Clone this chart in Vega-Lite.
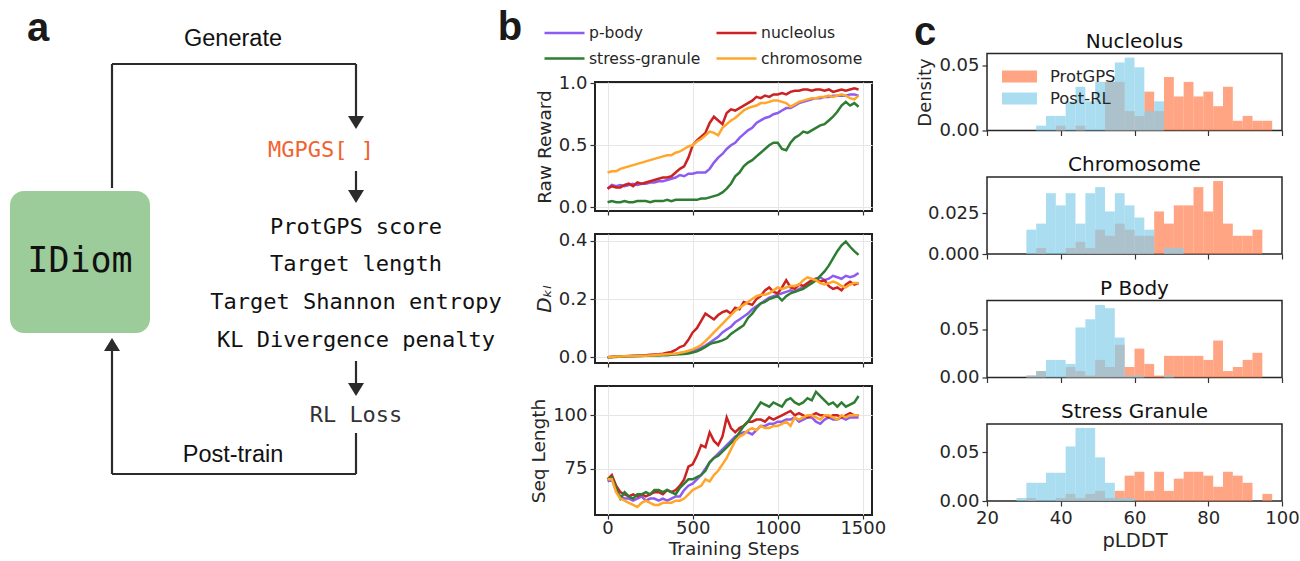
{
"$schema": "https://vega.github.io/schema/vega-lite/v6.json",
"padding": 0,
"background": "white",
"autosize": {"type": "pad"},
"config": {
  "font": "DejaVu Sans",
  "view": {"stroke": null},
  "axis": {"domain": false, "labelFlush": false, "tickColor": "#333333", "tickSize": 5, "tickWidth": 1.2, "labelFont": "DejaVu Sans", "titleFont": "DejaVu Sans", "labelFontSize": 18, "labelColor": "#262626", "titleFontSize": 18.5, "titleFontWeight": "normal", "titleColor": "#262626", "gridColor": "#e6e6e6", "labelPadding": 3},
  "legend": {"labelFont": "DejaVu Sans"},
  "title": {"font": "DejaVu Sans"}
},
"datasets": {
  "curves": [
{"series":"p-body","step":0,"reward":0.15,"kl":0,"len":69},
{"series":"p-body","step":25,"reward":0.18,"kl":0.001,"len":70},
{"series":"p-body","step":50,"reward":0.17,"kl":0.002,"len":65},
{"series":"p-body","step":75,"reward":0.18,"kl":0.002,"len":62},
{"series":"p-body","step":100,"reward":0.17,"kl":0.003,"len":61},
{"series":"p-body","step":125,"reward":0.18,"kl":0.003,"len":61},
{"series":"p-body","step":150,"reward":0.19,"kl":0.004,"len":60},
{"series":"p-body","step":175,"reward":0.18,"kl":0.004,"len":61},
{"series":"p-body","step":200,"reward":0.19,"kl":0.005,"len":62},
{"series":"p-body","step":225,"reward":0.19,"kl":0.005,"len":60},
{"series":"p-body","step":250,"reward":0.20,"kl":0.006,"len":61},
{"series":"p-body","step":275,"reward":0.20,"kl":0.007,"len":61},
{"series":"p-body","step":300,"reward":0.21,"kl":0.008,"len":60},
{"series":"p-body","step":325,"reward":0.21,"kl":0.009,"len":61},
{"series":"p-body","step":350,"reward":0.22,"kl":0.010,"len":60},
{"series":"p-body","step":375,"reward":0.23,"kl":0.011,"len":61},
{"series":"p-body","step":400,"reward":0.24,"kl":0.012,"len":62},
{"series":"p-body","step":425,"reward":0.26,"kl":0.014,"len":62},
{"series":"p-body","step":450,"reward":0.25,"kl":0.016,"len":65},
{"series":"p-body","step":475,"reward":0.27,"kl":0.019,"len":67},
{"series":"p-body","step":500,"reward":0.27,"kl":0.022,"len":68},
{"series":"p-body","step":525,"reward":0.28,"kl":0.026,"len":70},
{"series":"p-body","step":550,"reward":0.28,"kl":0.032,"len":72},
{"series":"p-body","step":575,"reward":0.28,"kl":0.04,"len":75},
{"series":"p-body","step":600,"reward":0.31,"kl":0.05,"len":78},
{"series":"p-body","step":625,"reward":0.36,"kl":0.06,"len":80},
{"series":"p-body","step":650,"reward":0.40,"kl":0.07,"len":82},
{"series":"p-body","step":675,"reward":0.43,"kl":0.085,"len":84},
{"series":"p-body","step":700,"reward":0.47,"kl":0.095,"len":86},
{"series":"p-body","step":725,"reward":0.50,"kl":0.105,"len":88},
{"series":"p-body","step":750,"reward":0.52,"kl":0.12,"len":90},
{"series":"p-body","step":775,"reward":0.56,"kl":0.13,"len":91},
{"series":"p-body","step":800,"reward":0.59,"kl":0.14,"len":92},
{"series":"p-body","step":825,"reward":0.62,"kl":0.15,"len":92},
{"series":"p-body","step":850,"reward":0.64,"kl":0.165,"len":91},
{"series":"p-body","step":875,"reward":0.68,"kl":0.175,"len":93},
{"series":"p-body","step":900,"reward":0.70,"kl":0.185,"len":95},
{"series":"p-body","step":925,"reward":0.72,"kl":0.195,"len":95},
{"series":"p-body","step":950,"reward":0.73,"kl":0.205,"len":96},
{"series":"p-body","step":975,"reward":0.75,"kl":0.21,"len":96},
{"series":"p-body","step":1000,"reward":0.76,"kl":0.215,"len":97},
{"series":"p-body","step":1025,"reward":0.78,"kl":0.22,"len":97},
{"series":"p-body","step":1050,"reward":0.80,"kl":0.225,"len":98},
{"series":"p-body","step":1075,"reward":0.80,"kl":0.23,"len":98},
{"series":"p-body","step":1100,"reward":0.82,"kl":0.225,"len":99},
{"series":"p-body","step":1125,"reward":0.84,"kl":0.235,"len":97},
{"series":"p-body","step":1150,"reward":0.85,"kl":0.24,"len":98},
{"series":"p-body","step":1175,"reward":0.86,"kl":0.25,"len":99},
{"series":"p-body","step":1200,"reward":0.87,"kl":0.255,"len":99},
{"series":"p-body","step":1225,"reward":0.88,"kl":0.27,"len":97},
{"series":"p-body","step":1250,"reward":0.88,"kl":0.275,"len":96},
{"series":"p-body","step":1275,"reward":0.89,"kl":0.265,"len":98},
{"series":"p-body","step":1300,"reward":0.89,"kl":0.27,"len":99},
{"series":"p-body","step":1325,"reward":0.90,"kl":0.28,"len":98},
{"series":"p-body","step":1350,"reward":0.90,"kl":0.275,"len":98},
{"series":"p-body","step":1375,"reward":0.90,"kl":0.27,"len":99},
{"series":"p-body","step":1400,"reward":0.90,"kl":0.28,"len":98},
{"series":"p-body","step":1425,"reward":0.91,"kl":0.275,"len":99},
{"series":"p-body","step":1450,"reward":0.91,"kl":0.28,"len":99},
{"series":"p-body","step":1475,"reward":0.90,"kl":0.29,"len":99},
{"series":"nucleolus","step":0,"reward":0.15,"kl":0,"len":70},
{"series":"nucleolus","step":25,"reward":0.17,"kl":0.001,"len":72},
{"series":"nucleolus","step":50,"reward":0.16,"kl":0.002,"len":67},
{"series":"nucleolus","step":75,"reward":0.16,"kl":0.002,"len":64},
{"series":"nucleolus","step":100,"reward":0.18,"kl":0.003,"len":63},
{"series":"nucleolus","step":125,"reward":0.19,"kl":0.004,"len":62},
{"series":"nucleolus","step":150,"reward":0.17,"kl":0.005,"len":63},
{"series":"nucleolus","step":175,"reward":0.20,"kl":0.005,"len":62},
{"series":"nucleolus","step":200,"reward":0.19,"kl":0.006,"len":63},
{"series":"nucleolus","step":225,"reward":0.20,"kl":0.007,"len":62},
{"series":"nucleolus","step":250,"reward":0.21,"kl":0.008,"len":63},
{"series":"nucleolus","step":275,"reward":0.22,"kl":0.009,"len":64},
{"series":"nucleolus","step":300,"reward":0.23,"kl":0.010,"len":64},
{"series":"nucleolus","step":325,"reward":0.24,"kl":0.012,"len":63},
{"series":"nucleolus","step":350,"reward":0.24,"kl":0.015,"len":65},
{"series":"nucleolus","step":375,"reward":0.25,"kl":0.018,"len":64},
{"series":"nucleolus","step":400,"reward":0.28,"kl":0.025,"len":65},
{"series":"nucleolus","step":425,"reward":0.31,"kl":0.035,"len":67},
{"series":"nucleolus","step":450,"reward":0.33,"kl":0.04,"len":70},
{"series":"nucleolus","step":475,"reward":0.40,"kl":0.06,"len":76},
{"series":"nucleolus","step":500,"reward":0.50,"kl":0.085,"len":77},
{"series":"nucleolus","step":525,"reward":0.54,"kl":0.10,"len":81},
{"series":"nucleolus","step":550,"reward":0.57,"kl":0.125,"len":86},
{"series":"nucleolus","step":575,"reward":0.60,"kl":0.15,"len":85},
{"series":"nucleolus","step":600,"reward":0.68,"kl":0.14,"len":92},
{"series":"nucleolus","step":625,"reward":0.73,"kl":0.13,"len":88},
{"series":"nucleolus","step":650,"reward":0.70,"kl":0.145,"len":86},
{"series":"nucleolus","step":675,"reward":0.67,"kl":0.155,"len":90},
{"series":"nucleolus","step":700,"reward":0.76,"kl":0.16,"len":99},
{"series":"nucleolus","step":725,"reward":0.79,"kl":0.15,"len":94},
{"series":"nucleolus","step":750,"reward":0.78,"kl":0.17,"len":92},
{"series":"nucleolus","step":775,"reward":0.80,"kl":0.165,"len":94},
{"series":"nucleolus","step":800,"reward":0.82,"kl":0.19,"len":95},
{"series":"nucleolus","step":825,"reward":0.84,"kl":0.185,"len":97},
{"series":"nucleolus","step":850,"reward":0.86,"kl":0.18,"len":97},
{"series":"nucleolus","step":875,"reward":0.89,"kl":0.2,"len":98},
{"series":"nucleolus","step":900,"reward":0.88,"kl":0.21,"len":98},
{"series":"nucleolus","step":925,"reward":0.90,"kl":0.23,"len":97},
{"series":"nucleolus","step":950,"reward":0.89,"kl":0.24,"len":99},
{"series":"nucleolus","step":975,"reward":0.91,"kl":0.225,"len":98},
{"series":"nucleolus","step":1000,"reward":0.91,"kl":0.22,"len":99},
{"series":"nucleolus","step":1025,"reward":0.92,"kl":0.24,"len":100},
{"series":"nucleolus","step":1050,"reward":0.91,"kl":0.265,"len":101},
{"series":"nucleolus","step":1075,"reward":0.93,"kl":0.24,"len":102},
{"series":"nucleolus","step":1100,"reward":0.94,"kl":0.235,"len":100},
{"series":"nucleolus","step":1125,"reward":0.94,"kl":0.25,"len":101},
{"series":"nucleolus","step":1150,"reward":0.95,"kl":0.245,"len":100},
{"series":"nucleolus","step":1175,"reward":0.95,"kl":0.255,"len":99},
{"series":"nucleolus","step":1200,"reward":0.94,"kl":0.265,"len":100},
{"series":"nucleolus","step":1225,"reward":0.95,"kl":0.27,"len":101},
{"series":"nucleolus","step":1250,"reward":0.95,"kl":0.26,"len":100},
{"series":"nucleolus","step":1275,"reward":0.94,"kl":0.265,"len":100},
{"series":"nucleolus","step":1300,"reward":0.95,"kl":0.245,"len":99},
{"series":"nucleolus","step":1325,"reward":0.93,"kl":0.235,"len":100},
{"series":"nucleolus","step":1350,"reward":0.94,"kl":0.24,"len":100},
{"series":"nucleolus","step":1375,"reward":0.95,"kl":0.23,"len":99},
{"series":"nucleolus","step":1400,"reward":0.94,"kl":0.25,"len":100},
{"series":"nucleolus","step":1425,"reward":0.95,"kl":0.26,"len":101},
{"series":"nucleolus","step":1450,"reward":0.96,"kl":0.25,"len":100},
{"series":"nucleolus","step":1475,"reward":0.95,"kl":0.255,"len":100},
{"series":"stress-granule","step":0,"reward":0.04,"kl":0,"len":70},
{"series":"stress-granule","step":25,"reward":0.05,"kl":0.001,"len":71},
{"series":"stress-granule","step":50,"reward":0.04,"kl":0.001,"len":66},
{"series":"stress-granule","step":75,"reward":0.04,"kl":0.002,"len":61},
{"series":"stress-granule","step":100,"reward":0.05,"kl":0.002,"len":64},
{"series":"stress-granule","step":125,"reward":0.04,"kl":0.003,"len":62},
{"series":"stress-granule","step":150,"reward":0.04,"kl":0.003,"len":61},
{"series":"stress-granule","step":175,"reward":0.05,"kl":0.004,"len":63},
{"series":"stress-granule","step":200,"reward":0.05,"kl":0.004,"len":63},
{"series":"stress-granule","step":225,"reward":0.05,"kl":0.005,"len":64},
{"series":"stress-granule","step":250,"reward":0.04,"kl":0.005,"len":63},
{"series":"stress-granule","step":275,"reward":0.05,"kl":0.006,"len":65},
{"series":"stress-granule","step":300,"reward":0.05,"kl":0.006,"len":65},
{"series":"stress-granule","step":325,"reward":0.05,"kl":0.007,"len":64},
{"series":"stress-granule","step":350,"reward":0.06,"kl":0.007,"len":65},
{"series":"stress-granule","step":375,"reward":0.05,"kl":0.008,"len":64},
{"series":"stress-granule","step":400,"reward":0.06,"kl":0.009,"len":63},
{"series":"stress-granule","step":425,"reward":0.06,"kl":0.010,"len":66},
{"series":"stress-granule","step":450,"reward":0.06,"kl":0.011,"len":68},
{"series":"stress-granule","step":475,"reward":0.06,"kl":0.013,"len":70},
{"series":"stress-granule","step":500,"reward":0.06,"kl":0.016,"len":70},
{"series":"stress-granule","step":525,"reward":0.06,"kl":0.02,"len":71},
{"series":"stress-granule","step":550,"reward":0.07,"kl":0.027,"len":72},
{"series":"stress-granule","step":575,"reward":0.07,"kl":0.035,"len":74},
{"series":"stress-granule","step":600,"reward":0.08,"kl":0.045,"len":78},
{"series":"stress-granule","step":625,"reward":0.09,"kl":0.05,"len":80},
{"series":"stress-granule","step":650,"reward":0.10,"kl":0.053,"len":81},
{"series":"stress-granule","step":675,"reward":0.12,"kl":0.058,"len":83},
{"series":"stress-granule","step":700,"reward":0.15,"kl":0.065,"len":85},
{"series":"stress-granule","step":725,"reward":0.19,"kl":0.08,"len":87},
{"series":"stress-granule","step":750,"reward":0.25,"kl":0.09,"len":89},
{"series":"stress-granule","step":775,"reward":0.28,"kl":0.10,"len":92},
{"series":"stress-granule","step":800,"reward":0.33,"kl":0.11,"len":95},
{"series":"stress-granule","step":825,"reward":0.36,"kl":0.135,"len":97},
{"series":"stress-granule","step":850,"reward":0.38,"kl":0.15,"len":100},
{"series":"stress-granule","step":875,"reward":0.41,"kl":0.17,"len":103},
{"series":"stress-granule","step":900,"reward":0.44,"kl":0.185,"len":106},
{"series":"stress-granule","step":925,"reward":0.47,"kl":0.19,"len":105},
{"series":"stress-granule","step":950,"reward":0.50,"kl":0.2,"len":104},
{"series":"stress-granule","step":975,"reward":0.52,"kl":0.205,"len":106},
{"series":"stress-granule","step":1000,"reward":0.52,"kl":0.21,"len":105},
{"series":"stress-granule","step":1025,"reward":0.47,"kl":0.195,"len":104},
{"series":"stress-granule","step":1050,"reward":0.46,"kl":0.21,"len":107},
{"series":"stress-granule","step":1075,"reward":0.52,"kl":0.22,"len":108},
{"series":"stress-granule","step":1100,"reward":0.56,"kl":0.225,"len":106},
{"series":"stress-granule","step":1125,"reward":0.58,"kl":0.23,"len":105},
{"series":"stress-granule","step":1150,"reward":0.61,"kl":0.235,"len":106},
{"series":"stress-granule","step":1175,"reward":0.60,"kl":0.245,"len":108},
{"series":"stress-granule","step":1200,"reward":0.62,"kl":0.255,"len":107},
{"series":"stress-granule","step":1225,"reward":0.64,"kl":0.265,"len":111},
{"series":"stress-granule","step":1250,"reward":0.66,"kl":0.28,"len":109},
{"series":"stress-granule","step":1275,"reward":0.67,"kl":0.295,"len":107},
{"series":"stress-granule","step":1300,"reward":0.70,"kl":0.315,"len":105},
{"series":"stress-granule","step":1325,"reward":0.73,"kl":0.34,"len":106},
{"series":"stress-granule","step":1350,"reward":0.77,"kl":0.365,"len":104},
{"series":"stress-granule","step":1375,"reward":0.82,"kl":0.385,"len":106},
{"series":"stress-granule","step":1400,"reward":0.85,"kl":0.398,"len":104},
{"series":"stress-granule","step":1425,"reward":0.82,"kl":0.38,"len":105},
{"series":"stress-granule","step":1450,"reward":0.84,"kl":0.365,"len":106},
{"series":"stress-granule","step":1475,"reward":0.81,"kl":0.352,"len":109},
{"series":"chromosome","step":0,"reward":0.28,"kl":0,"len":70},
{"series":"chromosome","step":25,"reward":0.29,"kl":0.001,"len":70},
{"series":"chromosome","step":50,"reward":0.29,"kl":0.002,"len":64},
{"series":"chromosome","step":75,"reward":0.31,"kl":0.002,"len":61},
{"series":"chromosome","step":100,"reward":0.32,"kl":0.003,"len":60},
{"series":"chromosome","step":125,"reward":0.33,"kl":0.003,"len":59},
{"series":"chromosome","step":150,"reward":0.34,"kl":0.004,"len":58},
{"series":"chromosome","step":175,"reward":0.35,"kl":0.004,"len":57},
{"series":"chromosome","step":200,"reward":0.36,"kl":0.005,"len":59},
{"series":"chromosome","step":225,"reward":0.37,"kl":0.005,"len":60},
{"series":"chromosome","step":250,"reward":0.38,"kl":0.006,"len":59},
{"series":"chromosome","step":275,"reward":0.39,"kl":0.007,"len":58},
{"series":"chromosome","step":300,"reward":0.40,"kl":0.008,"len":58},
{"series":"chromosome","step":325,"reward":0.41,"kl":0.009,"len":59},
{"series":"chromosome","step":350,"reward":0.42,"kl":0.010,"len":59},
{"series":"chromosome","step":375,"reward":0.42,"kl":0.011,"len":59},
{"series":"chromosome","step":400,"reward":0.44,"kl":0.012,"len":60},
{"series":"chromosome","step":425,"reward":0.45,"kl":0.015,"len":60},
{"series":"chromosome","step":450,"reward":0.47,"kl":0.018,"len":61},
{"series":"chromosome","step":475,"reward":0.49,"kl":0.022,"len":63},
{"series":"chromosome","step":500,"reward":0.50,"kl":0.027,"len":65},
{"series":"chromosome","step":525,"reward":0.53,"kl":0.034,"len":66},
{"series":"chromosome","step":550,"reward":0.55,"kl":0.042,"len":67},
{"series":"chromosome","step":575,"reward":0.58,"kl":0.055,"len":70},
{"series":"chromosome","step":600,"reward":0.61,"kl":0.07,"len":69},
{"series":"chromosome","step":625,"reward":0.60,"kl":0.085,"len":72},
{"series":"chromosome","step":650,"reward":0.58,"kl":0.1,"len":74},
{"series":"chromosome","step":675,"reward":0.64,"kl":0.115,"len":77},
{"series":"chromosome","step":700,"reward":0.67,"kl":0.13,"len":80},
{"series":"chromosome","step":725,"reward":0.70,"kl":0.145,"len":84},
{"series":"chromosome","step":750,"reward":0.72,"kl":0.16,"len":88},
{"series":"chromosome","step":775,"reward":0.75,"kl":0.17,"len":90},
{"series":"chromosome","step":800,"reward":0.78,"kl":0.18,"len":91},
{"series":"chromosome","step":825,"reward":0.80,"kl":0.19,"len":93},
{"series":"chromosome","step":850,"reward":0.81,"kl":0.2,"len":94},
{"series":"chromosome","step":875,"reward":0.82,"kl":0.21,"len":93},
{"series":"chromosome","step":900,"reward":0.84,"kl":0.215,"len":95},
{"series":"chromosome","step":925,"reward":0.84,"kl":0.215,"len":94},
{"series":"chromosome","step":950,"reward":0.85,"kl":0.22,"len":94},
{"series":"chromosome","step":975,"reward":0.86,"kl":0.23,"len":95},
{"series":"chromosome","step":1000,"reward":0.86,"kl":0.24,"len":95},
{"series":"chromosome","step":1025,"reward":0.85,"kl":0.235,"len":96},
{"series":"chromosome","step":1050,"reward":0.84,"kl":0.24,"len":97},
{"series":"chromosome","step":1075,"reward":0.81,"kl":0.245,"len":95},
{"series":"chromosome","step":1100,"reward":0.83,"kl":0.245,"len":99},
{"series":"chromosome","step":1125,"reward":0.85,"kl":0.25,"len":98},
{"series":"chromosome","step":1150,"reward":0.86,"kl":0.265,"len":99},
{"series":"chromosome","step":1175,"reward":0.87,"kl":0.275,"len":100},
{"series":"chromosome","step":1200,"reward":0.88,"kl":0.27,"len":100},
{"series":"chromosome","step":1225,"reward":0.88,"kl":0.265,"len":99},
{"series":"chromosome","step":1250,"reward":0.89,"kl":0.255,"len":98},
{"series":"chromosome","step":1275,"reward":0.89,"kl":0.25,"len":100},
{"series":"chromosome","step":1300,"reward":0.90,"kl":0.255,"len":100},
{"series":"chromosome","step":1325,"reward":0.89,"kl":0.26,"len":99},
{"series":"chromosome","step":1350,"reward":0.90,"kl":0.255,"len":98},
{"series":"chromosome","step":1375,"reward":0.91,"kl":0.245,"len":100},
{"series":"chromosome","step":1400,"reward":0.90,"kl":0.24,"len":99},
{"series":"chromosome","step":1425,"reward":0.88,"kl":0.25,"len":100},
{"series":"chromosome","step":1450,"reward":0.87,"kl":0.255,"len":100},
{"series":"chromosome","step":1475,"reward":0.90,"kl":0.255,"len":100}
  ],
  "hist": [
{"organelle":"Nucleolus","model":"ProtGPS","lo":38.667,"hi":41.333,"density":0.00375},
{"organelle":"Nucleolus","model":"ProtGPS","lo":44,"hi":46.667,"density":0.00375},
{"organelle":"Nucleolus","model":"ProtGPS","lo":52,"hi":54.667,"density":0.0375},
{"organelle":"Nucleolus","model":"ProtGPS","lo":54.667,"hi":57.333,"density":0.0375},
{"organelle":"Nucleolus","model":"ProtGPS","lo":57.333,"hi":60,"density":0.015},
{"organelle":"Nucleolus","model":"ProtGPS","lo":60,"hi":62.667,"density":0.01125},
{"organelle":"Nucleolus","model":"ProtGPS","lo":62.667,"hi":65.333,"density":0.03},
{"organelle":"Nucleolus","model":"ProtGPS","lo":65.333,"hi":68,"density":0.015},
{"organelle":"Nucleolus","model":"ProtGPS","lo":68,"hi":70.667,"density":0.04125},
{"organelle":"Nucleolus","model":"ProtGPS","lo":70.667,"hi":73.333,"density":0.02625},
{"organelle":"Nucleolus","model":"ProtGPS","lo":73.333,"hi":76,"density":0.0375},
{"organelle":"Nucleolus","model":"ProtGPS","lo":76,"hi":78.667,"density":0.02625},
{"organelle":"Nucleolus","model":"ProtGPS","lo":78.667,"hi":81.333,"density":0.03},
{"organelle":"Nucleolus","model":"ProtGPS","lo":81.333,"hi":84,"density":0.01875},
{"organelle":"Nucleolus","model":"ProtGPS","lo":84,"hi":86.667,"density":0.03375},
{"organelle":"Nucleolus","model":"ProtGPS","lo":86.667,"hi":89.333,"density":0.0075},
{"organelle":"Nucleolus","model":"ProtGPS","lo":89.333,"hi":92,"density":0.01125},
{"organelle":"Nucleolus","model":"ProtGPS","lo":92,"hi":94.667,"density":0.0075},
{"organelle":"Nucleolus","model":"ProtGPS","lo":94.667,"hi":97.333,"density":0.0075},
{"organelle":"Chromosome","model":"ProtGPS","lo":33.333,"hi":36,"density":0.00375},
{"organelle":"Chromosome","model":"ProtGPS","lo":41.333,"hi":44,"density":0.00375},
{"organelle":"Chromosome","model":"ProtGPS","lo":44,"hi":46.667,"density":0.0075},
{"organelle":"Chromosome","model":"ProtGPS","lo":46.667,"hi":49.333,"density":0.00375},
{"organelle":"Chromosome","model":"ProtGPS","lo":49.333,"hi":52,"density":0.015},
{"organelle":"Chromosome","model":"ProtGPS","lo":52,"hi":54.667,"density":0.01125},
{"organelle":"Chromosome","model":"ProtGPS","lo":54.667,"hi":57.333,"density":0.01875},
{"organelle":"Chromosome","model":"ProtGPS","lo":57.333,"hi":60,"density":0.015},
{"organelle":"Chromosome","model":"ProtGPS","lo":60,"hi":62.667,"density":0.01125},
{"organelle":"Chromosome","model":"ProtGPS","lo":62.667,"hi":65.333,"density":0.01125},
{"organelle":"Chromosome","model":"ProtGPS","lo":65.333,"hi":68,"density":0.02625},
{"organelle":"Chromosome","model":"ProtGPS","lo":68,"hi":70.667,"density":0.01875},
{"organelle":"Chromosome","model":"ProtGPS","lo":70.667,"hi":73.333,"density":0.03},
{"organelle":"Chromosome","model":"ProtGPS","lo":73.333,"hi":76,"density":0.03},
{"organelle":"Chromosome","model":"ProtGPS","lo":76,"hi":78.667,"density":0.04125},
{"organelle":"Chromosome","model":"ProtGPS","lo":78.667,"hi":81.333,"density":0.02625},
{"organelle":"Chromosome","model":"ProtGPS","lo":81.333,"hi":84,"density":0.045},
{"organelle":"Chromosome","model":"ProtGPS","lo":84,"hi":86.667,"density":0.01875},
{"organelle":"Chromosome","model":"ProtGPS","lo":86.667,"hi":89.333,"density":0.01125},
{"organelle":"Chromosome","model":"ProtGPS","lo":89.333,"hi":92,"density":0.01125},
{"organelle":"Chromosome","model":"ProtGPS","lo":92,"hi":94.667,"density":0.015},
{"organelle":"P Body","model":"ProtGPS","lo":30.667,"hi":33.333,"density":0.002},
{"organelle":"P Body","model":"ProtGPS","lo":33.333,"hi":36,"density":0.0067},
{"organelle":"P Body","model":"ProtGPS","lo":41.333,"hi":44,"density":0.0109},
{"organelle":"P Body","model":"ProtGPS","lo":44,"hi":46.667,"density":0.0067},
{"organelle":"P Body","model":"ProtGPS","lo":46.667,"hi":49.333,"density":0.002},
{"organelle":"P Body","model":"ProtGPS","lo":49.333,"hi":52,"density":0.0183},
{"organelle":"P Body","model":"ProtGPS","lo":52,"hi":54.667,"density":0.0109},
{"organelle":"P Body","model":"ProtGPS","lo":54.667,"hi":57.333,"density":0.034},
{"organelle":"P Body","model":"ProtGPS","lo":57.333,"hi":60,"density":0.0109},
{"organelle":"P Body","model":"ProtGPS","lo":60,"hi":62.667,"density":0.030},
{"organelle":"P Body","model":"ProtGPS","lo":62.667,"hi":65.333,"density":0.0141},
{"organelle":"P Body","model":"ProtGPS","lo":65.333,"hi":68,"density":0.002},
{"organelle":"P Body","model":"ProtGPS","lo":68,"hi":70.667,"density":0.0225},
{"organelle":"P Body","model":"ProtGPS","lo":70.667,"hi":73.333,"density":0.0225},
{"organelle":"P Body","model":"ProtGPS","lo":73.333,"hi":76,"density":0.0225},
{"organelle":"P Body","model":"ProtGPS","lo":76,"hi":78.667,"density":0.0225},
{"organelle":"P Body","model":"ProtGPS","lo":78.667,"hi":81.333,"density":0.0183},
{"organelle":"P Body","model":"ProtGPS","lo":81.333,"hi":84,"density":0.0384},
{"organelle":"P Body","model":"ProtGPS","lo":84,"hi":86.667,"density":0.0067},
{"organelle":"P Body","model":"ProtGPS","lo":86.667,"hi":89.333,"density":0.0109},
{"organelle":"P Body","model":"ProtGPS","lo":89.333,"hi":92,"density":0.0183},
{"organelle":"P Body","model":"ProtGPS","lo":92,"hi":94.667,"density":0.0257},
{"organelle":"Stress Granule","model":"ProtGPS","lo":30.667,"hi":33.333,"density":0.0031},
{"organelle":"Stress Granule","model":"ProtGPS","lo":38.667,"hi":41.333,"density":0.0031},
{"organelle":"Stress Granule","model":"ProtGPS","lo":41.333,"hi":44,"density":0.0073},
{"organelle":"Stress Granule","model":"ProtGPS","lo":44,"hi":46.667,"density":0.0031},
{"organelle":"Stress Granule","model":"ProtGPS","lo":46.667,"hi":49.333,"density":0.0073},
{"organelle":"Stress Granule","model":"ProtGPS","lo":49.333,"hi":52,"density":0.0104},
{"organelle":"Stress Granule","model":"ProtGPS","lo":52,"hi":54.667,"density":0.0031},
{"organelle":"Stress Granule","model":"ProtGPS","lo":54.667,"hi":57.333,"density":0.0104},
{"organelle":"Stress Granule","model":"ProtGPS","lo":57.333,"hi":60,"density":0.026},
{"organelle":"Stress Granule","model":"ProtGPS","lo":60,"hi":62.667,"density":0.030},
{"organelle":"Stress Granule","model":"ProtGPS","lo":62.667,"hi":65.333,"density":0.0104},
{"organelle":"Stress Granule","model":"ProtGPS","lo":65.333,"hi":68,"density":0.030},
{"organelle":"Stress Granule","model":"ProtGPS","lo":68,"hi":70.667,"density":0.0104},
{"organelle":"Stress Granule","model":"ProtGPS","lo":70.667,"hi":73.333,"density":0.0229},
{"organelle":"Stress Granule","model":"ProtGPS","lo":73.333,"hi":76,"density":0.030},
{"organelle":"Stress Granule","model":"ProtGPS","lo":76,"hi":78.667,"density":0.030},
{"organelle":"Stress Granule","model":"ProtGPS","lo":78.667,"hi":81.333,"density":0.026},
{"organelle":"Stress Granule","model":"ProtGPS","lo":81.333,"hi":84,"density":0.0146},
{"organelle":"Stress Granule","model":"ProtGPS","lo":84,"hi":86.667,"density":0.030},
{"organelle":"Stress Granule","model":"ProtGPS","lo":86.667,"hi":89.333,"density":0.026},
{"organelle":"Stress Granule","model":"ProtGPS","lo":89.333,"hi":92,"density":0.0187},
{"organelle":"Stress Granule","model":"ProtGPS","lo":94.667,"hi":97.333,"density":0.0073},
{"organelle":"Nucleolus","model":"Post-RL","lo":33.333,"hi":36,"density":0.00375},
{"organelle":"Nucleolus","model":"Post-RL","lo":36,"hi":38.667,"density":0.01125},
{"organelle":"Nucleolus","model":"Post-RL","lo":38.667,"hi":41.333,"density":0.01125},
{"organelle":"Nucleolus","model":"Post-RL","lo":41.333,"hi":44,"density":0.0225},
{"organelle":"Nucleolus","model":"Post-RL","lo":44,"hi":46.667,"density":0.03375},
{"organelle":"Nucleolus","model":"Post-RL","lo":46.667,"hi":49.333,"density":0.0225},
{"organelle":"Nucleolus","model":"Post-RL","lo":49.333,"hi":52,"density":0.0375},
{"organelle":"Nucleolus","model":"Post-RL","lo":52,"hi":54.667,"density":0.0375},
{"organelle":"Nucleolus","model":"Post-RL","lo":54.667,"hi":57.333,"density":0.0525},
{"organelle":"Nucleolus","model":"Post-RL","lo":57.333,"hi":60,"density":0.05625},
{"organelle":"Nucleolus","model":"Post-RL","lo":60,"hi":62.667,"density":0.04875},
{"organelle":"Nucleolus","model":"Post-RL","lo":62.667,"hi":65.333,"density":0.015},
{"organelle":"Nucleolus","model":"Post-RL","lo":65.333,"hi":68,"density":0.0225},
{"organelle":"Chromosome","model":"Post-RL","lo":30.667,"hi":33.333,"density":0.015},
{"organelle":"Chromosome","model":"Post-RL","lo":33.333,"hi":36,"density":0.01875},
{"organelle":"Chromosome","model":"Post-RL","lo":36,"hi":38.667,"density":0.0375},
{"organelle":"Chromosome","model":"Post-RL","lo":38.667,"hi":41.333,"density":0.03},
{"organelle":"Chromosome","model":"Post-RL","lo":41.333,"hi":44,"density":0.0375},
{"organelle":"Chromosome","model":"Post-RL","lo":44,"hi":46.667,"density":0.01875},
{"organelle":"Chromosome","model":"Post-RL","lo":46.667,"hi":49.333,"density":0.0375},
{"organelle":"Chromosome","model":"Post-RL","lo":49.333,"hi":52,"density":0.04125},
{"organelle":"Chromosome","model":"Post-RL","lo":52,"hi":54.667,"density":0.02625},
{"organelle":"Chromosome","model":"Post-RL","lo":54.667,"hi":57.333,"density":0.0375},
{"organelle":"Chromosome","model":"Post-RL","lo":57.333,"hi":60,"density":0.03},
{"organelle":"Chromosome","model":"Post-RL","lo":60,"hi":62.667,"density":0.0225},
{"organelle":"Chromosome","model":"Post-RL","lo":62.667,"hi":65.333,"density":0.015},
{"organelle":"Chromosome","model":"Post-RL","lo":68,"hi":70.667,"density":0.00375},
{"organelle":"Chromosome","model":"Post-RL","lo":70.667,"hi":73.333,"density":0.00375},
{"organelle":"P Body","model":"Post-RL","lo":30.667,"hi":33.333,"density":0.002},
{"organelle":"P Body","model":"Post-RL","lo":33.333,"hi":36,"density":0.0067},
{"organelle":"P Body","model":"Post-RL","lo":36,"hi":38.667,"density":0.0183},
{"organelle":"P Body","model":"Post-RL","lo":38.667,"hi":41.333,"density":0.0183},
{"organelle":"P Body","model":"Post-RL","lo":41.333,"hi":44,"density":0.0141},
{"organelle":"P Body","model":"Post-RL","lo":44,"hi":46.667,"density":0.052},
{"organelle":"P Body","model":"Post-RL","lo":46.667,"hi":49.333,"density":0.0605},
{"organelle":"P Body","model":"Post-RL","lo":49.333,"hi":52,"density":0.0753},
{"organelle":"P Body","model":"Post-RL","lo":52,"hi":54.667,"density":0.072},
{"organelle":"P Body","model":"Post-RL","lo":54.667,"hi":57.333,"density":0.0415},
{"organelle":"P Body","model":"Post-RL","lo":57.333,"hi":60,"density":0.002},
{"organelle":"P Body","model":"Post-RL","lo":60,"hi":62.667,"density":0.002},
{"organelle":"P Body","model":"Post-RL","lo":68,"hi":70.667,"density":0.002},
{"organelle":"Stress Granule","model":"Post-RL","lo":28,"hi":30.667,"density":0.0031},
{"organelle":"Stress Granule","model":"Post-RL","lo":30.667,"hi":33.333,"density":0.0187},
{"organelle":"Stress Granule","model":"Post-RL","lo":33.333,"hi":36,"density":0.0187},
{"organelle":"Stress Granule","model":"Post-RL","lo":36,"hi":38.667,"density":0.029},
{"organelle":"Stress Granule","model":"Post-RL","lo":38.667,"hi":41.333,"density":0.029},
{"organelle":"Stress Granule","model":"Post-RL","lo":41.333,"hi":44,"density":0.056},
{"organelle":"Stress Granule","model":"Post-RL","lo":44,"hi":46.667,"density":0.075},
{"organelle":"Stress Granule","model":"Post-RL","lo":46.667,"hi":49.333,"density":0.075},
{"organelle":"Stress Granule","model":"Post-RL","lo":49.333,"hi":52,"density":0.0448},
{"organelle":"Stress Granule","model":"Post-RL","lo":52,"hi":54.667,"density":0.0187},
{"organelle":"Stress Granule","model":"Post-RL","lo":54.667,"hi":57.333,"density":0.0031},
{"organelle":"Stress Granule","model":"Post-RL","lo":57.333,"hi":60,"density":0.0031}
  ]
},
"bounds": "flush",
"spacing": 75,
"resolve": {"scale": {"color": "independent"}, "legend": {"color": "independent"}},
"hconcat": [
  {
    "width": 520, "height": 561,
    "view": {"stroke": null, "fill": "white"},
    "layer": [
      {"data": {"values": [{"x": 10, "x2": 150, "y": 191, "y2": 333}]},
       "mark": {"type": "rect", "fill": "#9ccc99", "cornerRadius": 14},
       "encoding": {"x": {"field": "x", "type": "quantitative", "scale": {"domain": [0, 520], "nice": false, "zero": false}, "axis": null}, "x2": {"field": "x2"},
                    "y": {"field": "y", "type": "quantitative", "scale": {"domain": [0, 561], "nice": false, "zero": false, "reverse": true}, "axis": null}, "y2": {"field": "y2"}}},
      {"data": {"values": [
          {"x": 112, "y": 188, "x2": 112, "y2": 64},
          {"x": 112, "y": 64, "x2": 356, "y2": 64},
          {"x": 356, "y": 64, "x2": 356, "y2": 118},
          {"x": 356, "y": 171, "x2": 356, "y2": 192},
          {"x": 356, "y": 361, "x2": 356, "y2": 385},
          {"x": 356, "y": 433, "x2": 356, "y2": 474},
          {"x": 356, "y": 474, "x2": 112, "y2": 474},
          {"x": 112, "y": 474, "x2": 112, "y2": 350}]},
       "mark": {"type": "rule", "stroke": "#2b2b2b", "strokeWidth": 2.2},
       "encoding": {"x": {"field": "x", "type": "quantitative"}, "x2": {"field": "x2"}, "y": {"field": "y", "type": "quantitative"}, "y2": {"field": "y2"}}},
      {"data": {"values": [{"x": 356, "y": 122.5, "rot": 0}, {"x": 356, "y": 196.5, "rot": 0}, {"x": 356, "y": 389.5, "rot": 0}, {"x": 112, "y": 344.5, "rot": 180}]},
       "mark": {"type": "point", "shape": "M-1,-0.8L1,-0.8L0,0.8Z", "filled": true, "color": "#2b2b2b", "size": 256, "opacity": 1},
       "encoding": {"x": {"field": "x", "type": "quantitative"}, "y": {"field": "y", "type": "quantitative"}, "angle": {"field": "rot", "type": "quantitative", "scale": null}}},
      {"data": {"values": [{"x": 80, "y": 261, "label": "IDiom"}]},
       "mark": {"type": "text", "font": "DejaVu Sans Mono", "fontSize": 35, "color": "#111111", "align": "center", "baseline": "middle"},
       "encoding": {"x": {"field": "x", "type": "quantitative"}, "y": {"field": "y", "type": "quantitative"}, "text": {"field": "label"}}},
      {"data": {"values": [{"x": 356, "y": 227, "label": "ProtGPS score"}, {"x": 356, "y": 264, "label": "Target length"}, {"x": 356, "y": 302, "label": "Target Shannon entropy"}, {"x": 356, "y": 340, "label": "KL Divergence penalty"}]},
       "mark": {"type": "text", "font": "DejaVu Sans Mono", "fontSize": 22, "color": "#111111", "align": "center", "baseline": "middle"},
       "encoding": {"x": {"field": "x", "type": "quantitative"}, "y": {"field": "y", "type": "quantitative"}, "text": {"field": "label"}}},
      {"data": {"values": [{"x": 356, "y": 415, "label": "RL Loss"}]},
       "mark": {"type": "text", "font": "DejaVu Sans Mono", "fontSize": 22, "color": "#333333", "align": "center", "baseline": "middle"},
       "encoding": {"x": {"field": "x", "type": "quantitative"}, "y": {"field": "y", "type": "quantitative"}, "text": {"field": "label"}}},
      {"data": {"values": [{"x": 268, "y": 150, "label": "MGPGS[ ]"}]},
       "mark": {"type": "text", "font": "DejaVu Sans Mono", "fontSize": 22, "color": "#f2622e", "align": "left", "baseline": "middle"},
       "encoding": {"x": {"field": "x", "type": "quantitative"}, "y": {"field": "y", "type": "quantitative"}, "text": {"field": "label"}}},
      {"data": {"values": [{"x": 233, "y": 39, "label": "Generate"}, {"x": 233, "y": 455, "label": "Post-train"}]},
       "mark": {"type": "text", "font": "Liberation Sans", "fontSize": 23.5, "color": "#111111", "align": "center", "baseline": "middle"},
       "encoding": {"x": {"field": "x", "type": "quantitative"}, "y": {"field": "y", "type": "quantitative"}, "text": {"field": "label"}}},
      {"data": {"values": [{"x": 38, "y": 41, "label": "a"}, {"x": 510, "y": 40, "label": "b"}, {"x": 925, "y": 45, "label": "c"}]},
       "mark": {"type": "text", "font": "Liberation Sans", "fontSize": 40, "fontWeight": "bold", "color": "#1a1a1a", "align": "center", "baseline": "alphabetic"},
       "encoding": {"x": {"field": "x", "type": "quantitative"}, "y": {"field": "y", "type": "quantitative"}, "text": {"field": "label"}}}
    ]
  },
  {
    "bounds": "flush",
    "spacing": 392,
    "resolve": {"scale": {"color": "independent"}, "legend": {"color": "independent"}},
    "hconcat": [
      {
        "bounds": "flush",
        "spacing": 23,
        "resolve": {"scale": {"color": "independent"}, "legend": {"color": "independent"}},
        "vconcat": [
          {"width": 277, "height": 59, "data": {"values": [{"v": 0}]}, "mark": {"type": "point", "opacity": 0}, "encoding": {}},
          {
            "width": 277, "height": 129,
            "view": {"stroke": "#222222", "strokeWidth": 2},
            "data": {"name": "curves"},
            "mark": {"type": "line", "strokeWidth": 2.5},
            "encoding": {
              "x": {"field": "step", "type": "quantitative", "scale": {"domain": [-74, 1554], "nice": false, "zero": false}, "axis": {"values": [0, 500, 1000, 1500], "labels": false, "title": null, "grid": true, "tickSize": 4}},
              "y": {"field": "reward", "type": "quantitative", "scale": {"domain": [-0.03, 1.01], "nice": false, "zero": false}, "axis": {"values": [0, 0.5, 1], "format": ".1f", "title": "Raw Reward", "grid": true}},
              "color": {"field": "series", "type": "nominal", "scale": {"domain": ["p-body", "stress-granule", "nucleolus", "chromosome"], "range": ["#8c5cf2", "#2e7d32", "#cc2222", "#ffa62b"]},
                "legend": {"orient": "none", "legendX": -42, "legendY": -61, "columns": 2, "title": null, "symbolType": "M-2,0L2,0", "symbolSize": 400, "symbolStrokeWidth": 2.5, "labelFontSize": 15.6, "labelOffset": 13, "rowPadding": 5, "columnPadding": 10, "padding": 0, "labelColor": "#262626"}}
            }
          },
          {
            "width": 277, "height": 129,
            "view": {"stroke": "#222222", "strokeWidth": 2},
            "data": {"name": "curves"},
            "mark": {"type": "line", "strokeWidth": 2.5},
            "encoding": {
              "x": {"field": "step", "type": "quantitative", "scale": {"domain": [-74, 1554], "nice": false, "zero": false}, "axis": {"values": [0, 500, 1000, 1500], "labels": false, "title": null, "grid": true, "tickSize": 4}},
              "y": {"field": "kl", "type": "quantitative", "scale": {"domain": [-0.02, 0.424], "nice": false, "zero": false}, "axis": {"values": [0, 0.2, 0.4], "format": ".1f", "title": "Dₖₗ", "titleFontStyle": "italic", "titleFontSize": 20, "grid": true}},
              "color": {"field": "series", "type": "nominal", "scale": {"domain": ["p-body", "stress-granule", "nucleolus", "chromosome"], "range": ["#8c5cf2", "#2e7d32", "#cc2222", "#ffa62b"]}, "legend": null}
            }
          },
          {
            "width": 277, "height": 129,
            "view": {"stroke": "#222222", "strokeWidth": 2},
            "data": {"name": "curves"},
            "mark": {"type": "line", "strokeWidth": 2.5},
            "encoding": {
              "x": {"field": "step", "type": "quantitative", "scale": {"domain": [-74, 1554], "nice": false, "zero": false}, "axis": {"values": [0, 500, 1000, 1500], "format": "d", "title": "Training Steps", "grid": true, "tickSize": 4, "labelPadding": 0, "titlePadding": 2}},
              "y": {"field": "len", "type": "quantitative", "scale": {"domain": [53.3, 113.7], "nice": false, "zero": false}, "axis": {"values": [75, 100], "format": "d", "title": "Seq Length", "grid": true}},
              "color": {"field": "series", "type": "nominal", "scale": {"domain": ["p-body", "stress-granule", "nucleolus", "chromosome"], "range": ["#8c5cf2", "#2e7d32", "#cc2222", "#ffa62b"]}, "legend": null}
            }
          }
        ]
      },
      {
        "bounds": "flush",
        "spacing": 46.5,
        "resolve": {"scale": {"color": "independent"}, "legend": {"color": "independent"}},
        "vconcat": [
          {"width": 295, "height": 6.5, "data": {"values": [{"v": 0}]}, "mark": {"type": "point", "opacity": 0}, "encoding": {}},
          {
            "width": 295, "height": 77,
            "view": {"stroke": "#262626", "strokeWidth": 1.5},
            "title": {"text": "Nucleolus", "fontSize": 20, "fontWeight": "normal", "offset": 2, "color": "#111111"},
            "data": {"name": "hist"},
            "transform": [{"filter": "datum.organelle == 'Nucleolus'"}],
            "mark": {"type": "rect", "opacity": 0.7},
            "encoding": {
              "x": {"field": "lo", "type": "quantitative", "scale": {"domain": [20, 100], "nice": false, "zero": false}, "axis": {"values": [20, 40, 60, 80, 100], "labels": false, "title": null, "grid": false}},
              "x2": {"field": "hi"},
              "y": {"field": "density", "type": "quantitative", "scale": {"domain": [0, 0.0594], "nice": false}, "axis": {"values": [0, 0.05], "format": ".2f", "title": "Density", "titleFontSize": 18, "grid": false}},
              "y2": {"datum": 0},
              "color": {"field": "model", "type": "nominal", "scale": {"domain": ["ProtGPS", "Post-RL"], "range": ["#ff7f50", "#87ceeb"]},
                "legend": {"orient": "none", "legendX": 22.5, "legendY": 13, "title": null, "symbolType": "M-1.75,-0.6L1.75,-0.6L1.75,0.6L-1.75,0.6Z", "symbolSize": 400, "symbolOpacity": 0.7, "symbolStrokeWidth": 0, "labelFontSize": 16.4, "labelOffset": 20.5, "rowPadding": 3, "padding": 0, "labelColor": "#262626"}}
            }
          },
          {
            "width": 295, "height": 77,
            "view": {"stroke": "#262626", "strokeWidth": 1.5},
            "title": {"text": "Chromosome", "fontSize": 20, "fontWeight": "normal", "offset": 2, "color": "#111111"},
            "data": {"name": "hist"},
            "transform": [{"filter": "datum.organelle == 'Chromosome'"}],
            "mark": {"type": "rect", "opacity": 0.7},
            "encoding": {
              "x": {"field": "lo", "type": "quantitative", "scale": {"domain": [20, 100], "nice": false, "zero": false}, "axis": {"values": [20, 40, 60, 80, 100], "labels": false, "title": null, "grid": false}},
              "x2": {"field": "hi"},
              "y": {"field": "density", "type": "quantitative", "scale": {"domain": [0, 0.0475], "nice": false}, "axis": {"values": [0, 0.025], "format": ".3f", "title": null, "grid": false}},
              "y2": {"datum": 0},
              "color": {"field": "model", "type": "nominal", "scale": {"domain": ["ProtGPS", "Post-RL"], "range": ["#ff7f50", "#87ceeb"]}, "legend": null}
            }
          },
          {
            "width": 295, "height": 77,
            "view": {"stroke": "#262626", "strokeWidth": 1.5},
            "title": {"text": "P Body", "fontSize": 20, "fontWeight": "normal", "offset": 2, "color": "#111111"},
            "data": {"name": "hist"},
            "transform": [{"filter": "datum.organelle == 'P Body'"}],
            "mark": {"type": "rect", "opacity": 0.7},
            "encoding": {
              "x": {"field": "lo", "type": "quantitative", "scale": {"domain": [20, 100], "nice": false, "zero": false}, "axis": {"values": [20, 40, 60, 80, 100], "labels": false, "title": null, "grid": false}},
              "x2": {"field": "hi"},
              "y": {"field": "density", "type": "quantitative", "scale": {"domain": [0, 0.08], "nice": false}, "axis": {"values": [0, 0.05], "format": ".2f", "title": null, "grid": false}},
              "y2": {"datum": 0},
              "color": {"field": "model", "type": "nominal", "scale": {"domain": ["ProtGPS", "Post-RL"], "range": ["#ff7f50", "#87ceeb"]}, "legend": null}
            }
          },
          {
            "width": 295, "height": 77,
            "view": {"stroke": "#262626", "strokeWidth": 1.5},
            "title": {"text": "Stress Granule", "fontSize": 20, "fontWeight": "normal", "offset": 2, "color": "#111111"},
            "data": {"name": "hist"},
            "transform": [{"filter": "datum.organelle == 'Stress Granule'"}],
            "mark": {"type": "rect", "opacity": 0.7},
            "encoding": {
              "x": {"field": "lo", "type": "quantitative", "scale": {"domain": [20, 100], "nice": false, "zero": false}, "axis": {"values": [20, 40, 60, 80, 100], "title": "pLDDT", "titleFontSize": 19.5, "grid": false}},
              "x2": {"field": "hi"},
              "y": {"field": "density", "type": "quantitative", "scale": {"domain": [0, 0.079], "nice": false}, "axis": {"values": [0, 0.05], "format": ".2f", "title": null, "grid": false}},
              "y2": {"datum": 0},
              "color": {"field": "model", "type": "nominal", "scale": {"domain": ["ProtGPS", "Post-RL"], "range": ["#ff7f50", "#87ceeb"]}, "legend": null}
            }
          }
        ]
      }
    ]
  }
]
}
